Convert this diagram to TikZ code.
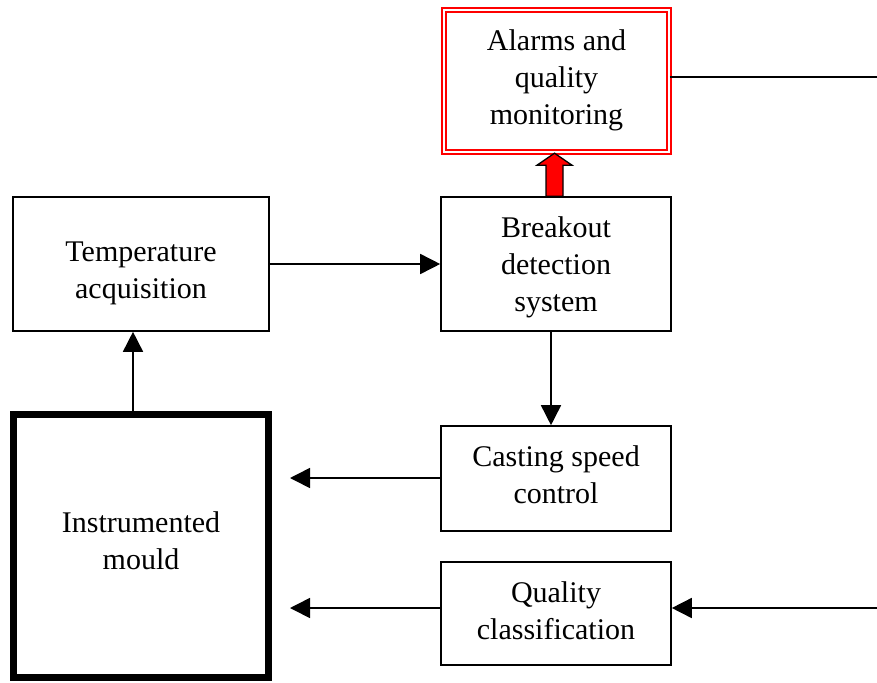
\documentclass[tikz,border=0pt]{standalone}
\usepackage{fontspec}
\setmainfont{Liberation Serif}
\usetikzlibrary{arrows.meta,calc}
\begin{document}
\begin{tikzpicture}[x=1pt,y=-1pt,
  box/.style={draw=black,line width=1.6pt,inner sep=0pt},
  txt/.style={align=center,inner sep=0pt,font=\fontsize{30}{37}\selectfont},
  arr/.style={line width=1.6pt,-{Triangle[length=20pt,width=20pt]}},
  plainline/.style={line width=1.6pt},
  blockarr/.style={draw=black,line width=1.3pt,fill=red,line join=miter}]
\useasboundingbox (0,0) rectangle (877,682);
\node[box,draw=red,double=white,double distance=2pt,line width=1.6pt,
  minimum width=225pt,minimum height=142pt,
  label={[txt,yshift=1pt]center:Alarms and\\quality\\monitoring}] (alarms) at (556.5,81) {};
\node[box,minimum width=256pt,minimum height=134pt,
  label={[txt,yshift=-9pt]center:Temperature\\acquisition}] (temp) at (141,264) {};
\node[box,minimum width=230pt,minimum height=134pt,
  label={[txt,yshift=-3pt]center:Breakout\\detection\\system}] (breakout) at (556,264) {};
\node[box,minimum width=230pt,minimum height=105pt,
  label={[txt,yshift=4pt]center:Casting speed\\control}] (casting) at (556,478.5) {};
\node[box,minimum width=230pt,minimum height=103pt,
  label={[txt,yshift=3pt]center:Quality\\classification}] (quality) at (556,613.5) {};
\node[box,line width=7pt,minimum width=255pt,minimum height=263pt,
  label={[txt,yshift=5pt]center:Instrumented\\mould}] (mould) at (141,546) {};
\coordinate (alarmsout) at (877,77);
\coordinate (qualityin) at (877,608);
\coordinate (castingend) at (290,478);
\coordinate (qualityend) at (290,608);
\draw[arr] (temp.east) -- (breakout.west);
\draw[arr] ([xshift=-5pt]breakout.south) -- ([xshift=-5pt]casting.north);
\draw[arr] (mould.north -| {(133,0)}) -- (temp.south -| {(133,0)});
\draw[arr] (casting.west |- castingend) -- (castingend);
\draw[arr] (quality.west |- qualityend) -- (qualityend);
\draw[plainline] (alarms.east |- alarmsout) -- (alarmsout);
\draw[arr] (qualityin) -- (quality.east |- qualityin);
\draw[blockarr] (breakout.north) ++(-10,0) -- ++(0,-31) -- ++(-9,0) -- ++(17.5,-12)
  -- ++(17.5,12) -- ++(-9,0) -- ++(0,31) -- cycle;
\end{tikzpicture}
\end{document}
